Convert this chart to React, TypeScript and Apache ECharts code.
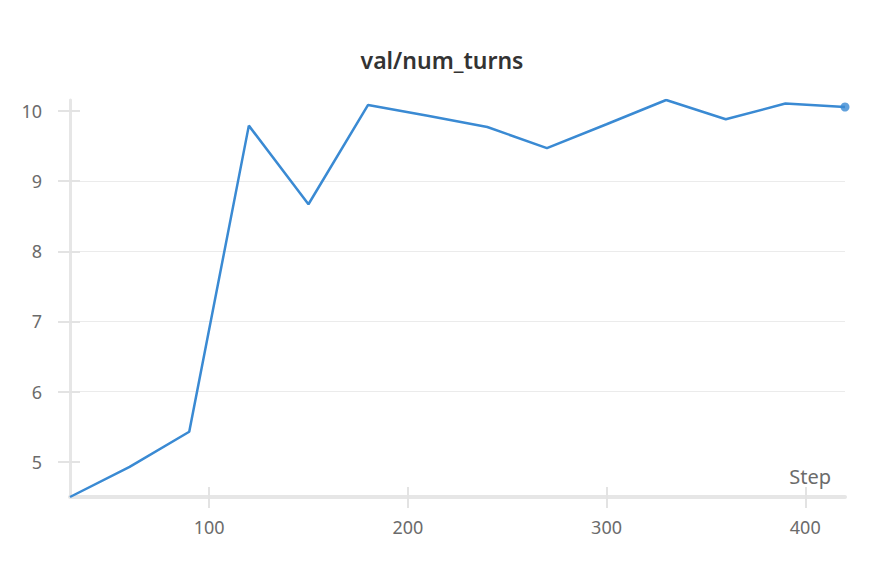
import React, { useEffect, useRef } from "react";
import * as echarts from "echarts";

const chartTitle = "val/num_turns";
const xAxisName = "Step";
const steps = [30, 60, 90, 120, 150, 180, 210, 240, 270, 300, 330, 360, 390, 420];
const numTurns = [4.5, 4.93, 5.43, 9.79, 8.67, 10.085, 9.93, 9.77, 9.47, 9.81, 10.155, 9.88, 10.105, 10.055];
const xTickValues = [100, 200, 300, 400];
const yTickValues = [5, 6, 7, 8, 9, 10];

const FONT = "Noto Sans";
const LINE_COLOR = "#3a8ad3";

export default function App() {
  const ref = useRef<HTMLDivElement>(null);
  useEffect(() => {
    if (!ref.current) return;
    const chart = echarts.init(ref.current, undefined, { renderer: "svg" });
    const pairs = steps.map((s, i) => [s, numTurns[i]]);
    const last = pairs[pairs.length - 1];
    const xMin = steps[0];
    const xMax = steps[steps.length - 1];
    const yMin = Math.min(...numTurns);
    const yMax = Math.max(...numTurns);
    const labelStyle = { color: "#6b6b6b", fontSize: 18, fontFamily: FONT };
    chart.setOption({
      animation: false,
      backgroundColor: "#ffffff",
      title: {
        text: chartTitle,
        left: "center",
        top: 43,
        textStyle: { fontFamily: FONT, fontSize: 23, fontWeight: 600, color: "#333333" },
      },
      grid: { left: 70, right: 39, top: 100, bottom: 67, containLabel: false },
      xAxis: [
        {
          type: "value",
          min: xMin,
          max: xMax,
          axisLine: { show: true, lineStyle: { color: "#e6e6e6", width: 4 } },
          axisTick: { show: true, customValues: xTickValues, length: 11, lineStyle: { color: "#e3e3e3", width: 2 } },
          axisLabel: { ...labelStyle, margin: 21, customValues: xTickValues },
          splitLine: { show: false },
        },
        {
          type: "value",
          min: xMin,
          max: xMax,
          position: "bottom",
          axisLine: { show: false },
          axisTick: { show: true, inside: true, customValues: xTickValues, length: 10, lineStyle: { color: "#e3e3e3", width: 2 } },
          axisLabel: { show: false },
          splitLine: { show: false },
        },
      ],
      yAxis: [
        {
          type: "value",
          min: yMin,
          max: yMax,
          axisLine: { show: true, lineStyle: { color: "#e6e6e6", width: 3 } },
          axisTick: { show: true, customValues: yTickValues, length: 12, lineStyle: { color: "#e3e3e3", width: 2 } },
          axisLabel: { ...labelStyle, margin: 28, customValues: yTickValues },
          splitLine: { show: true, showMinLine: false, showMaxLine: false, lineStyle: { color: "#ebebeb", width: 1 } },
        },
        {
          type: "value",
          min: yMin,
          max: yMax,
          position: "left",
          axisLine: { show: false },
          axisTick: { show: true, inside: true, customValues: yTickValues, length: 10, lineStyle: { color: "#e3e3e3", width: 2 } },
          axisLabel: { show: false },
          splitLine: { show: false },
        },
      ],
      graphic: [
        {
          type: "text",
          right: 53,
          top: 466,
          style: { text: xAxisName, fontFamily: FONT, fontSize: 20, fill: "#6b6b6b" },
        },
      ],
      series: [
        {
          type: "line",
          data: pairs,
          showSymbol: false,
          lineStyle: { color: LINE_COLOR, width: 2.5 },
          itemStyle: { color: LINE_COLOR },
        },
        {
          type: "scatter",
          data: [last],
          symbol: "circle",
          symbolSize: 9,
          itemStyle: { color: LINE_COLOR },
        },
      ],
    });
    return () => chart.dispose();
  }, []);
  return <div ref={ref} style={{ position: "fixed", left: 0, top: 0, width: 884, height: 564 }} />;
}
